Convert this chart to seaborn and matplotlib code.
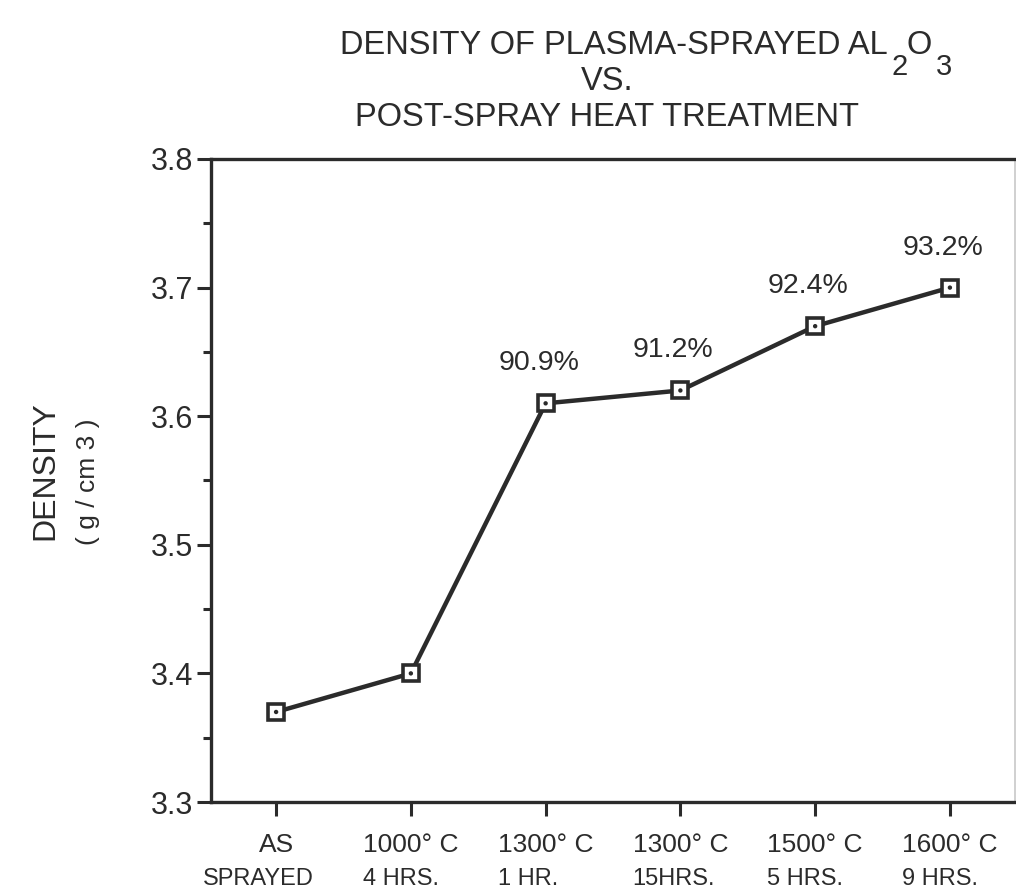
import matplotlib
matplotlib.use("Agg")
import matplotlib.pyplot as plt
import seaborn as sns
import numpy as np
from matplotlib.ticker import MultipleLocator

# --- data -------------------------------------------------------------
treatment_temp = ["AS", "1000° C", "1300° C", "1300° C", "1500° C", "1600° C"]
treatment_time = ["SPRAYED", "4 HRS.", "1 HR.", "15HRS.", "5 HRS.", "9 HRS."]
density = [3.37, 3.40, 3.61, 3.62, 3.67, 3.70]
pct_theoretical = [None, None, "90.9%", "91.2%", "92.4%", "93.2%"]

# --- style ------------------------------------------------------------
sns.set_style("ticks")
plt.rcParams["font.family"] = ["Liberation Sans", "DejaVu Sans"]
ink = "#2b2b2b"

W, H = 1016, 894
fig = plt.figure(figsize=(W / 100, H / 100), dpi=100)
ax = fig.add_axes([211 / W, 1 - 802 / H, (1015 - 211) / W, (802 - 159) / H])

pos = np.arange(len(density))
sns.lineplot(x=pos, y=density, ax=ax, color=ink, lw=3.2, sort=False,
             marker="s", markersize=11, markerfacecolor="white",
             markeredgecolor=ink, markeredgewidth=2.6, zorder=3)
sns.scatterplot(x=pos, y=density, ax=ax, s=10, color=ink, edgecolor="none",
                zorder=4, legend=False)

ax.set_xlim(-0.483, len(density) - 0.517)
ax.set_ylim(3.3, 3.8)
ax.yaxis.set_major_locator(MultipleLocator(0.1))
ax.yaxis.set_minor_locator(MultipleLocator(0.05))
ax.set_yticklabels([f"{v:.1f}" for v in ax.get_yticks()])
ax.set_xticks(pos)
ax.set_xticklabels(treatment_temp)

for side in ["left", "top", "bottom"]:
    ax.spines[side].set_linewidth(2.4)
    ax.spines[side].set_color(ink)
ax.spines["right"].set_linewidth(1.2)
ax.spines["right"].set_color("#c8c8c8")

ax.tick_params(axis="y", which="major", length=10, width=2.2, color=ink,
               labelsize=22, pad=3, labelcolor=ink)
ax.tick_params(axis="y", which="minor", length=6, width=2.2, color=ink)
ax.tick_params(axis="x", which="major", length=10, width=2.2, color=ink,
               labelsize=19, pad=12, labelcolor=ink)
ax.set_xlabel("")
ax.set_ylabel("")

# percentage of theoretical density above the points
for x, y, lab in zip(pos, density, pct_theoretical):
    if lab:
        ax.annotate(lab, (x, y), textcoords="offset pixels", xytext=(-7, 40),
                    ha="center", va="center", fontsize=20.5, color=ink)

# second line of the category labels, aligned under the first line
fig.canvas.draw()
renderer = fig.canvas.get_renderer()
for lbl, sub in zip(ax.get_xticklabels(), treatment_time):
    bb = lbl.get_window_extent(renderer)
    if len(sub) > len(lbl.get_text()) + 3:
        fig.text((bb.x0 + bb.x1) / 2 / W - 18 / W, (bb.y0 - 22) / H, sub,
                 ha="center", va="center", fontsize=17, color=ink)
    else:
        fig.text(bb.x0 / W, (bb.y0 - 22) / H, sub,
                 ha="left", va="center", fontsize=17, color=ink)

# axis title, two stacked rotated lines
fig.text(45 / W, 1 - 471 / H, "DENSITY", rotation=90, ha="center",
         va="center", fontsize=23, color=ink)
fig.text(88 / W, 1 - 482 / H, "( g / cm 3 )", rotation=90, ha="center",
         va="center", fontsize=19, color=ink)

# chart title with the Al2O3 formula
t1 = fig.text(340 / W, 1 - 45 / H, "DENSITY OF PLASMA-SPRAYED AL",
              ha="left", va="center", fontsize=23.5, color=ink)
s2 = ax.annotate("2", xy=(1, 0.5), xycoords=t1, xytext=(4, -22),
                 textcoords="offset pixels", ha="left", va="center",
                 fontsize=21, color=ink, annotation_clip=False)
o = ax.annotate("O", xy=(1, 0.5), xycoords=(s2, t1), xytext=(-1, 0),
                textcoords="offset pixels", ha="left", va="center",
                fontsize=23.5, color=ink, annotation_clip=False)
ax.annotate("3", xy=(1, 0.5), xycoords=(o, s2), xytext=(4, 0),
            textcoords="offset pixels", ha="left", va="center",
            fontsize=21, color=ink, annotation_clip=False)
fig.text(607 / W, 1 - 81 / H, "VS.", ha="center", va="center",
         fontsize=23.5, color=ink)
fig.text(607 / W, 1 - 118 / H, "POST-SPRAY HEAT TREATMENT", ha="center",
         va="center", fontsize=23.5, color=ink)

fig.savefig("out.png", dpi=100, facecolor="white")
